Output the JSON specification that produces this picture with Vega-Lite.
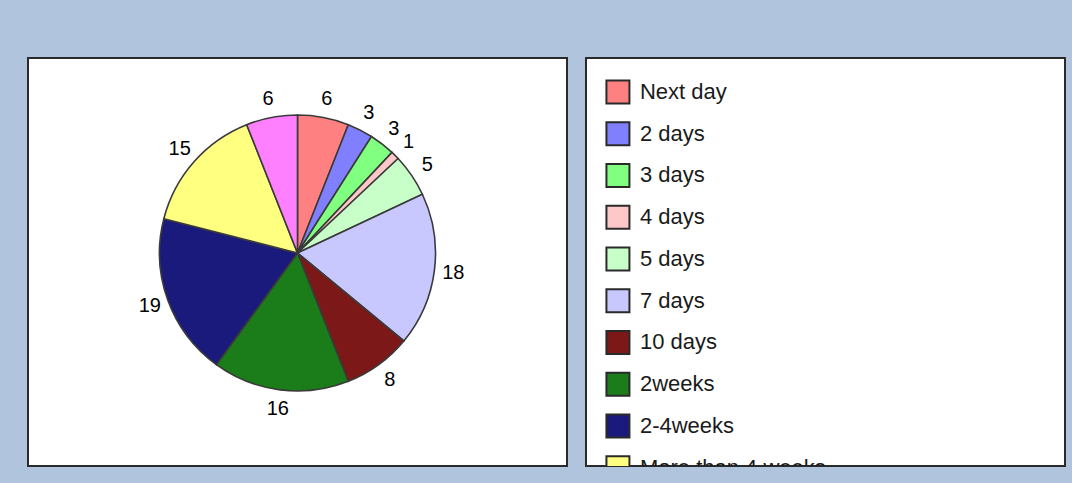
{
  "$schema": "https://vega.github.io/schema/vega-lite/v6.json",
  "background": "#B0C4DE",
  "padding": {"left": 27, "top": 57, "right": 7, "bottom": 18},
  "spacing": 17,
  "config": {
    "view": {"stroke": "#2a2a2a", "strokeWidth": 2, "fill": "white"},
    "font": "Liberation Sans"
  },
  "datasets": {
    "d": [
      {"order": 1, "label": "Next day", "count": 6},
      {"order": 2, "label": "2 days", "count": 3},
      {"order": 3, "label": "3 days", "count": 3},
      {"order": 4, "label": "4 days", "count": 1},
      {"order": 5, "label": "5 days", "count": 5},
      {"order": 6, "label": "7 days", "count": 18},
      {"order": 7, "label": "10 days", "count": 8},
      {"order": 8, "label": "2weeks", "count": 16},
      {"order": 9, "label": "2-4weeks", "count": 19},
      {"order": 10, "label": "More than 4 weeks", "count": 15},
      {"order": 11, "label": "Unknown", "count": 6}
    ]
  },
  "hconcat": [
    {
      "width": 539,
      "height": 408,
      "view": {"fill": "white", "stroke": "#2a2a2a", "strokeWidth": 2},
      "data": {"name": "d"},
      "layer": [
        {
          "mark": {"type": "point", "opacity": 0, "size": 0, "strokeWidth": 0},
          "encoding": {
            "x": {"datum": 0, "type": "quantitative", "axis": null, "scale": {"domain": [-1, 1]}},
            "y": {"datum": 0, "type": "quantitative", "axis": null, "scale": {"domain": [-1, 1]}}
          }
        },
        {
          "mark": {"type": "arc", "outerRadius": 138, "stroke": "#3a3a3a", "strokeWidth": 1.6, "yOffset": -9},
          "encoding": {
            "theta": {"field": "count", "type": "quantitative", "stack": true},
            "order": {"field": "order", "type": "quantitative"},
            "color": {
              "field": "label",
              "type": "nominal",
              "legend": null,
              "scale": {
                "domain": ["Next day", "2 days", "3 days", "4 days", "5 days", "7 days", "10 days", "2weeks", "2-4weeks", "More than 4 weeks", "Unknown"],
                "range": ["#FF8080", "#8080FF", "#80FF80", "#FFC8C8", "#C8FFC8", "#C8C8FF", "#7D1818", "#1A7D1A", "#1A1A7D", "#FFFF80", "#FF80FF"]
              }
            }
          }
        },
        {
          "mark": {"type": "text", "radius": 157, "fontSize": 20, "color": "#000000", "yOffset": -9},
          "encoding": {
            "theta": {"field": "count", "type": "quantitative", "stack": true},
            "order": {"field": "order", "type": "quantitative"},
            "text": {"field": "count", "type": "quantitative"}
          }
        }
      ]
    },
    {
      "width": 479,
      "height": 408,
      "view": {"fill": "white", "stroke": "#2a2a2a", "strokeWidth": 2},
      "data": {"name": "d"},
      "encoding": {
        "y": {"field": "order", "type": "quantitative", "axis": null, "scale": {"domain": [0.186, 9.958], "reverse": true, "zero": false, "nice": false}},
        "x": {"datum": 0, "type": "quantitative", "axis": null, "scale": {"domain": [-1, 14], "nice": false, "zero": false}}
      },
      "layer": [
        {
          "mark": {"type": "square", "size": 529, "filled": true, "opacity": 1, "stroke": "#2a2a2a", "strokeWidth": 2, "clip": true},
          "encoding": {
            "color": {
              "field": "label",
              "type": "nominal",
              "legend": null,
              "scale": {
                "domain": ["Next day", "2 days", "3 days", "4 days", "5 days", "7 days", "10 days", "2weeks", "2-4weeks", "More than 4 weeks", "Unknown"],
                "range": ["#FF8080", "#8080FF", "#80FF80", "#FFC8C8", "#C8FFC8", "#C8C8FF", "#7D1818", "#1A7D1A", "#1A1A7D", "#FFFF80", "#FF80FF"]
              }
            }
          }
        },
        {
          "mark": {"type": "text", "align": "left", "baseline": "middle", "dx": 22, "fontSize": 22, "color": "#1a1a1a", "clip": true},
          "encoding": {
            "text": {"field": "label", "type": "nominal"}
          }
        }
      ]
    }
  ]
}
